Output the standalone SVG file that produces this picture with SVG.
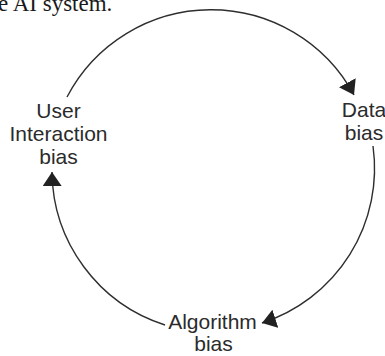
<svg xmlns="http://www.w3.org/2000/svg" width="385" height="356" viewBox="0 0 385 356">
<defs>
<style>
.lbl{font-family:"Liberation Sans",Arial,sans-serif;font-size:21px;fill:#2b2b2b;text-anchor:middle}
.cap{font-family:"Liberation Serif","Times New Roman",serif;font-size:23px;fill:#1a1a1a}
.arc{fill:none;stroke:#2e2e2e;stroke-width:1.4}
</style>
<marker id="ah" markerUnits="userSpaceOnUse" markerWidth="16" markerHeight="20" refX="14" refY="9.5" orient="auto">
<path d="M0,0 L14,9.5 L0,19 z" fill="#222"/>
</marker>
</defs>
<rect width="385" height="356" fill="#fff"/>
<text class="cap" x="-2" y="11">e AI system.</text>
<g id="connectors">
<path class="arc" d="M67,97 A162.5,162.5 0 0 1 354,95" marker-end="url(#ah)"/>
<path class="arc" d="M373,146 A162.5,162.5 0 0 1 262,323" marker-end="url(#ah)"/>
<path class="arc" d="M165,325 A162.5,162.5 0 0 1 52,172" marker-end="url(#ah)"/>
</g>
<g id="user-interaction-bias">
<text class="lbl" x="58.5" y="118">User</text>
<text class="lbl" x="58.5" y="141">Interaction</text>
<text class="lbl" x="58.5" y="164">bias</text>
</g>
<g id="data-bias">
<text class="lbl" x="364" y="117">Data</text>
<text class="lbl" x="364" y="140">bias</text>
</g>
<g id="algorithm-bias">
<text class="lbl" x="212.5" y="329">Algorithm</text>
<text class="lbl" x="213.5" y="351">bias</text>
</g>
</svg>
